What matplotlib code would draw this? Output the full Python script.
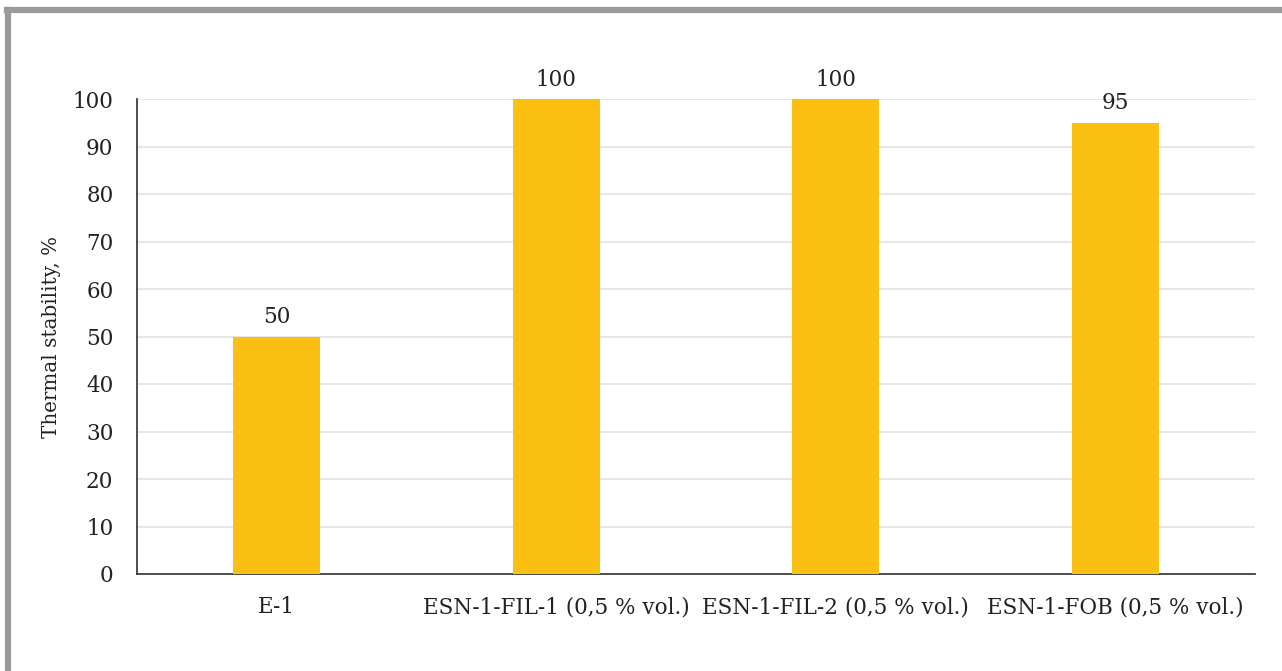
import matplotlib
matplotlib.use("Agg")
import matplotlib.pyplot as plt
from matplotlib.lines import Line2D

categories = ["E-1", "ESN-1-FIL-1 (0,5 % vol.)", "ESN-1-FIL-2 (0,5 % vol.)", "ESN-1-FOB (0,5 % vol.)"]
values = [50, 100, 100, 95]
yticks = list(range(0, 101, 10))

plt.rcParams["font.family"] = ["DejaVu Serif"]
FS = 15.5

W, H = 1282, 671
fig = plt.figure(figsize=(W / 100, H / 100), dpi=100)
ax = fig.add_axes([137 / W, 1 - 574 / H, (1255 - 137) / W, (574 - 99) / H])

ax.bar(range(len(categories)), values, width=0.31, color="#FBC012", zorder=3)
for i, v in enumerate(values):
    ax.annotate(f"{v}", (i, v), textcoords="offset points", xytext=(0, 6),
                ha="center", va="bottom", fontsize=FS, color="#222222")

ax.set_xlim(-0.5, len(categories) - 0.5)
ax.set_ylim(0, 100)
ax.set_yticks(yticks)
ax.set_xticks(range(len(categories)))
ax.set_xticklabels(categories, fontsize=FS, color="#222222")
ax.tick_params(axis="y", labelsize=FS, colors="#222222", length=0, pad=17)
ax.tick_params(axis="x", length=0, pad=16)
ax.grid(axis="y", color="#e3e3e3", lw=1.2, zorder=0)
ax.set_axisbelow(True)
for s in ["top", "right"]:
    ax.spines[s].set_visible(False)
ax.spines["left"].set_color("#404040")
ax.spines["bottom"].set_color("#404040")
ax.spines["left"].set_linewidth(1.3)
ax.spines["bottom"].set_linewidth(1.3)
ax.set_ylabel("Thermal stability, %", fontsize=14.3, color="#222222", labelpad=8)

# outer frame (top and left edges visible)
fig.add_artist(Line2D([7 / W, 1], [1 - 9.5 / H, 1 - 9.5 / H], color="#9a9a9e", lw=4.5))
fig.add_artist(Line2D([7.5 / W, 7.5 / W], [0, 1 - 9.5 / H], color="#9a9a9e", lw=4.5))

fig.savefig("out.png", dpi=100)
